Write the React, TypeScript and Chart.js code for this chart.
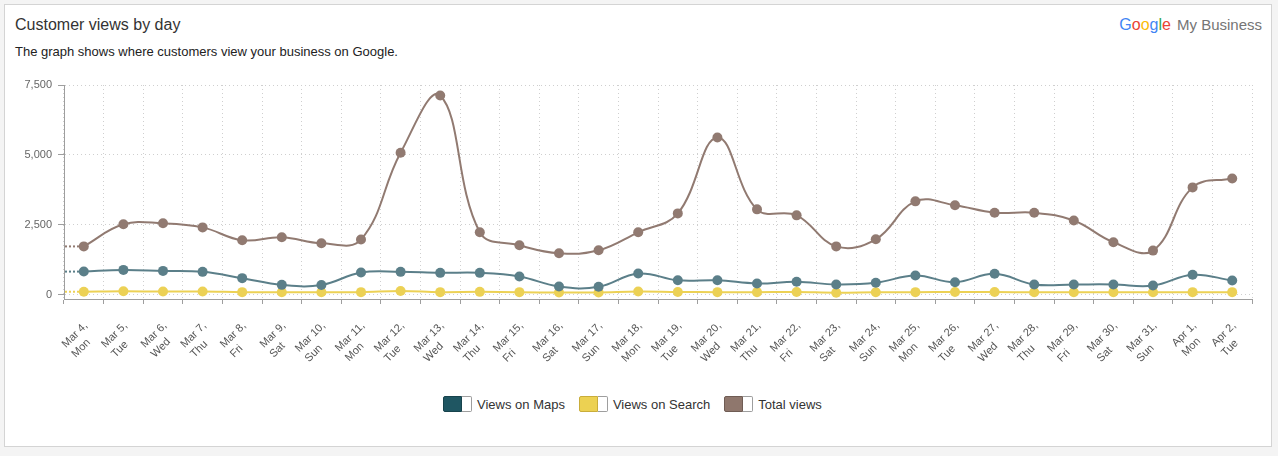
import React, { useEffect, useRef } from 'react';
import { Chart, registerables } from 'chart.js';

Chart.register(...registerables);

// ---- data ----
const dates = [
  'Mar 4,', 'Mar 5,', 'Mar 6,', 'Mar 7,', 'Mar 8,', 'Mar 9,', 'Mar 10,', 'Mar 11,', 'Mar 12,', 'Mar 13,',
  'Mar 14,', 'Mar 15,', 'Mar 16,', 'Mar 17,', 'Mar 18,', 'Mar 19,', 'Mar 20,', 'Mar 21,', 'Mar 22,', 'Mar 23,',
  'Mar 24,', 'Mar 25,', 'Mar 26,', 'Mar 27,', 'Mar 28,', 'Mar 29,', 'Mar 30,', 'Mar 31,', 'Apr 1,', 'Apr 2,',
];
const weekdays = [
  'Mon', 'Tue', 'Wed', 'Thu', 'Fri', 'Sat', 'Sun', 'Mon', 'Tue', 'Wed',
  'Thu', 'Fri', 'Sat', 'Sun', 'Mon', 'Tue', 'Wed', 'Thu', 'Fri', 'Sat',
  'Sun', 'Mon', 'Tue', 'Wed', 'Thu', 'Fri', 'Sat', 'Sun', 'Mon', 'Tue',
];
const viewsOnMaps = [
  830, 890, 855, 820, 595, 355, 350, 795, 820, 785,
  785, 655, 295, 285, 760, 520, 520, 405, 465, 370,
  430, 690, 450, 750, 370, 370, 370, 330, 715, 510,
];
const viewsOnSearch = [
  110, 125, 115, 120, 95, 90, 90, 95, 135, 95,
  105, 95, 80, 85, 115, 100, 95, 95, 100, 75,
  90, 95, 100, 100, 90, 90, 95, 90, 95, 95,
];
const totalViews = [
  1730, 2520, 2555, 2410, 1950, 2055, 1840, 1975, 5080, 7125,
  2235, 1770, 1485, 1590, 2235, 2910, 5625, 3055, 2840, 1730,
  1985, 3340, 3200, 2935, 2935, 2655, 1880, 1580, 3840, 4160,
];
const yTicks = [0, 2500, 5000, 7500];

const seriesNames = ['Views on Maps', 'Views on Search', 'Total views'];
const lineColors = ['#5b7f89', '#ecd155', '#917a71'];
const legendColors = ['#1f5662', '#ecd152', '#8f776d'];
const legendBorders = ['#17434c', '#c9ad3a', '#6f5c54'];

const FONT = '"Liberation Sans", Arial, sans-serif';

const leadInPlugin = {
  id: 'leadIn',
  beforeDatasetsDraw(chart: any) {
    const { ctx, chartArea } = chart;
    chart.data.datasets.forEach((ds: any, i: number) => {
      const meta = chart.getDatasetMeta(i);
      const p = meta.data[0];
      if (!p) return;
      ctx.save();
      ctx.strokeStyle = ds.borderColor;
      ctx.lineWidth = 2;
      ctx.setLineDash([2, 2]);
      ctx.beginPath();
      ctx.moveTo(chartArea.left + 1, p.y);
      ctx.lineTo(p.x, p.y);
      ctx.stroke();
      ctx.restore();
    });
  },
};

const xLabelPlugin = {
  id: 'xLabels',
  afterDraw(chart: any) {
    const { ctx } = chart;
    const xs = chart.scales.x;
    ctx.save();
    ctx.font = '11px ' + FONT;
    ctx.fillStyle = '#555';
    dates.forEach((d, i) => {
      const x = xs.getPixelForValue(i);
      ctx.save();
      ctx.translate(x + 2, xs.top + 25);
      ctx.rotate(-Math.PI / 4);
      ctx.textBaseline = 'middle';
      ctx.textAlign = 'right';
      ctx.fillText(d, 0, 0);
      const w = ctx.measureText(d).width;
      ctx.textAlign = 'left';
      ctx.fillText(weekdays[i], -w, 14);
      ctx.restore();
    });
    ctx.restore();
  },
};

function LineChart() {
  const ref = useRef<HTMLCanvasElement>(null);
  useEffect(() => {
    if (!ref.current) return;
    const series = [viewsOnMaps, viewsOnSearch, totalViews];
    const chart = new Chart(ref.current, {
      type: 'line',
      data: {
        labels: dates.map((d, i) => d + ' ' + weekdays[i]),
        datasets: series.map((s, i) => ({
          label: seriesNames[i],
          data: s,
          borderColor: lineColors[i],
          backgroundColor: lineColors[i],
          pointBackgroundColor: lineColors[i],
          pointBorderColor: lineColors[i],
          pointRadius: 5,
          pointBorderWidth: 0,
          borderWidth: 2,
          tension: 0.4,
          fill: false,
        })),
      },
      options: {
        animation: false,
        responsive: false,
        layout: { padding: { top: 15, right: 20, left: 0, bottom: 0 } },
        plugins: {
          legend: { display: false },
          tooltip: { enabled: false },
        },
        scales: {
          x: {
            offset: true,
            grid: {
              offset: true,
              color: '#cfcfcf',
              lineWidth: 1,
              drawTicks: true,
              tickLength: 5,
              tickColor: '#9e9e9e',
            },
            border: { display: true, color: '#9e9e9e', width: 1, dash: [1, 3] },
            ticks: { display: false },
            afterFit: (axis: any) => {
              axis.height = 81;
            },
          },
          y: {
            min: -150,
            max: 7500,
            afterBuildTicks: (axis: any) => {
              axis.ticks = yTicks.map((v) => ({ value: v }));
            },
            grid: {
              color: '#cfcfcf',
              lineWidth: 1,
              drawTicks: true,
              tickLength: 6,
              tickColor: '#9e9e9e',
            },
            border: { display: true, color: '#9e9e9e', width: 1, dash: [1, 3] },
            ticks: {
              padding: 6,
              color: '#666',
              font: { size: 11, family: FONT },
              callback: (v: any) => Number(v).toLocaleString('en-US'),
            },
            afterFit: (axis: any) => {
              axis.width = 60;
            },
          },
        },
      },
      plugins: [leadInPlugin, xLabelPlugin],
    });
    return () => chart.destroy();
  }, []);
  return <canvas ref={ref} width={1268} height={310} style={{ position: 'absolute', left: 4, top: 70 }} />;
}

const googleLetters = [
  ['G', '#4285F4'], ['o', '#EA4335'], ['o', '#FBBC05'], ['g', '#4285F4'], ['l', '#34A853'], ['e', '#EA4335'],
];

export default function App() {
  return (
    <div style={{ position: 'fixed', left: 0, top: 0, width: 1278, height: 456, background: '#f4f4f4', fontFamily: FONT }}>
      <div
        style={{
          position: 'absolute', left: 4, top: 4, width: 1268, height: 443, boxSizing: 'border-box',
          border: '1px solid #d4d4d4', background: '#fff',
        }}
      />
      <div style={{ position: 'absolute', left: 15, top: 15, fontSize: 16, color: '#333', lineHeight: '20px', whiteSpace: 'nowrap' }}>
        Customer views by day
      </div>
      <div style={{ position: 'absolute', left: 15, top: 44, fontSize: 13, color: '#222', lineHeight: '16px', whiteSpace: 'nowrap' }}>
        The graph shows where customers view your business on Google.
      </div>
      <div style={{ position: 'absolute', right: 16, top: 15, lineHeight: '20px', whiteSpace: 'nowrap' }}>
        <span style={{ fontSize: 16 }}>
          {googleLetters.map(([c, col], i) => (
            <span key={i} style={{ color: col }}>{c}</span>
          ))}
        </span>
        <span style={{ fontSize: 15, color: '#757575', marginLeft: 6 }}>My Business</span>
      </div>
      <LineChart />
      <div style={{ position: 'absolute', left: 443, top: 395, display: 'flex', alignItems: 'center', height: 18 }}>
        {seriesNames.map((name, i) => (
          <div key={name} style={{ display: 'flex', alignItems: 'center', marginRight: 14 }}>
            <span
              style={{
                display: 'inline-block', width: 19, height: 16, boxSizing: 'border-box',
                background: legendColors[i], border: '1px solid ' + legendBorders[i], borderRadius: '2px 0 0 2px',
              }}
            />
            <span
              style={{
                display: 'inline-block', width: 10, height: 16, boxSizing: 'border-box', background: '#fff',
                border: '1px solid #9e9e9e', borderLeft: 'none', borderRadius: '0 2px 2px 0',
              }}
            />
            <span style={{ marginLeft: 5, fontSize: 13, color: '#333', whiteSpace: 'nowrap' }}>{name}</span>
          </div>
        ))}
      </div>
    </div>
  );
}
